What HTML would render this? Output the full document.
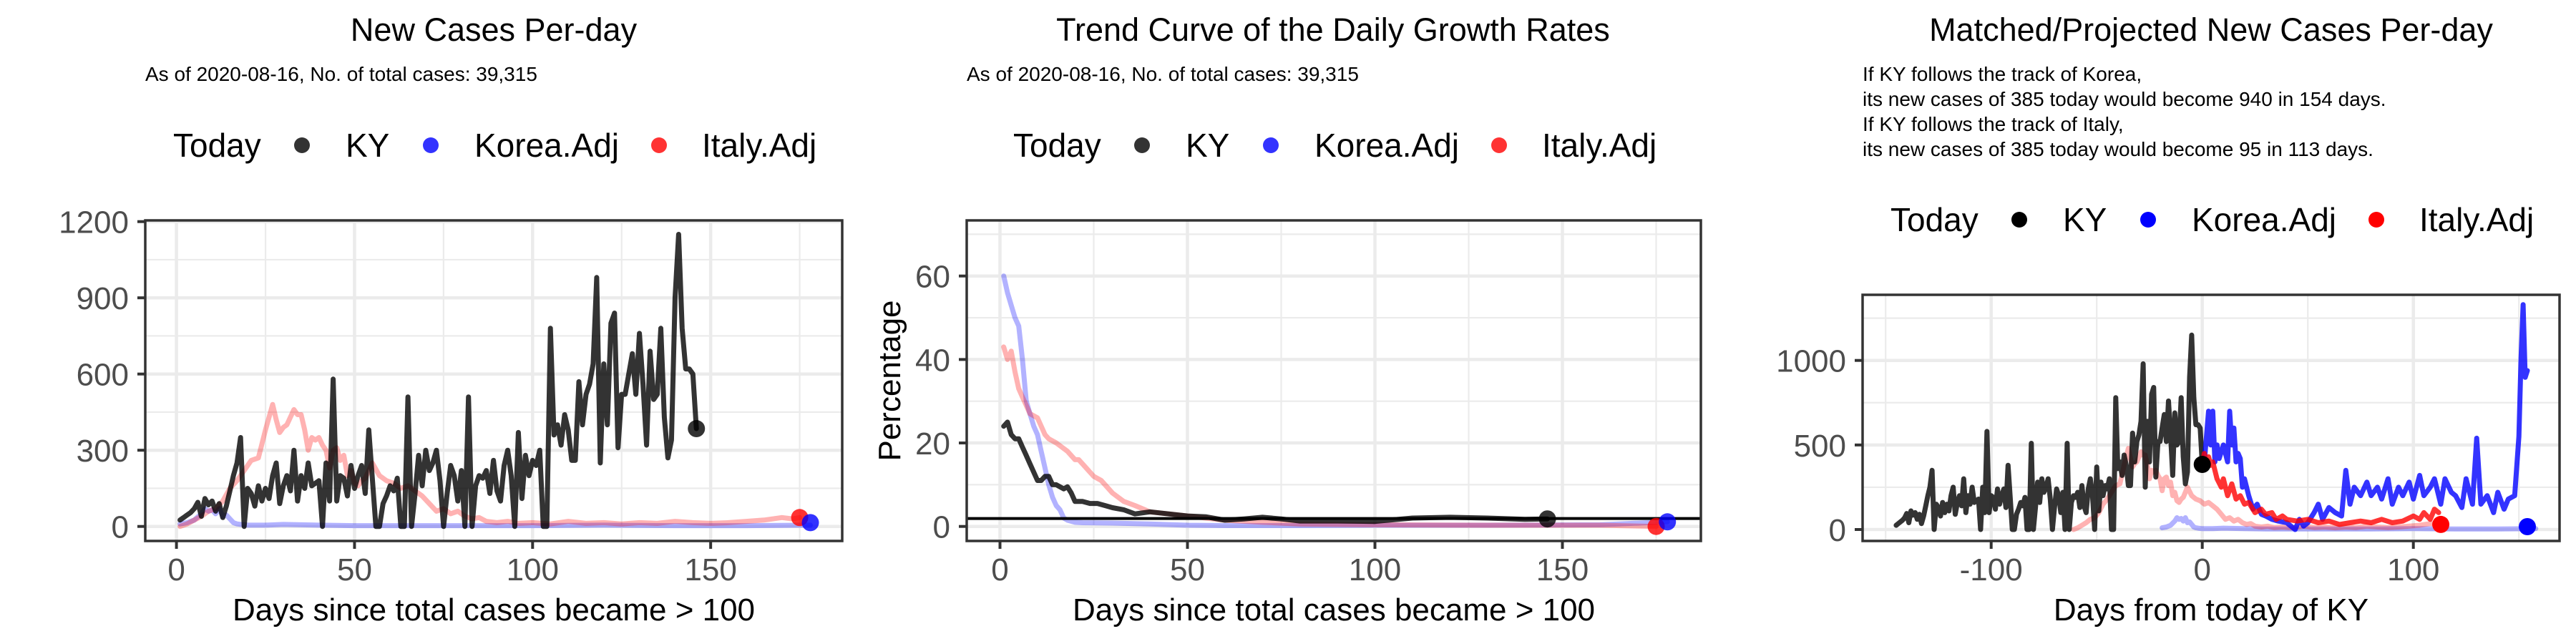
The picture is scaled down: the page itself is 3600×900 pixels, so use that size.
<!DOCTYPE html>
<html><head><meta charset="utf-8">
<style>
html,body{margin:0;padding:0;background:#fff;}
svg{display:block;font-family:"Liberation Sans",Arial,sans-serif;}
</style></head>
<body>
<svg id="chart" width="3600" height="900" viewBox="0 0 3600 900" xmlns="http://www.w3.org/2000/svg"></svg>
<script>
// ---- Data ----
const kyCases = [25,35,45,55,70,95,40,110,85,100,
60,90,35,80,140,200,250,350,0,150,
130,80,160,100,150,110,200,250,90,160,
200,140,300,100,200,150,250,160,170,180,
0,250,100,580,100,200,190,120,240,150,
200,240,130,380,190,0,0,90,120,160,
140,190,0,0,510,0,130,280,160,300,
220,250,300,180,0,130,240,200,100,220,
0,510,0,160,200,190,220,130,260,140,
100,240,300,200,0,370,110,280,200,260,
240,300,0,0,780,360,400,320,440,380,
260,260,570,400,520,560,640,980,250,640,
400,800,840,310,520,520,600,680,520,760,
560,320,690,500,520,780,430,270,340,900,
1150,780,620,620,600,385];
const italyDays = [1,3,5,7,9,11,13,15,17,19,21,23,25,27,28,29,30,31,33,34,35,36,37,38,39,40,41,42,43,44,45,46,47,48,49,50,51,52,53,55,57,59,61,63,65,67,69,71,73,75,77,79,81,83,85,87,90,93,96,100,105,110,115,120,125,130,135,140,145,150,155,160,165,170,173,175];
const italyCases = [0,10,25,40,60,70,100,150,180,220,260,270,380,480,420,370,390,400,460,440,440,380,300,350,340,350,320,300,230,300,310,260,280,200,220,170,160,180,190,250,200,180,170,150,160,140,120,90,60,70,50,60,40,30,35,20,15,20,12,15,10,20,12,15,10,15,12,20,15,12,15,20,25,35,30,35];
const koreaDays = [1,3,5,7,8,9,10,11,12,13,14,15,16,17,18,20,25,30,40,50,60,80,100,120,140,160,178];
const koreaCases = [10,15,25,50,70,60,65,50,70,40,45,30,15,10,8,5,5,8,5,3,3,3,3,5,3,3,5];

const kyGrowthDays = [1,2,3,4,5,6,7,8,9,10,11,12,13,14,15,16,17,18,19,20,22,24,26,28,30,33,36,40,45,50,55,60,65,70,75,80,90,100,110,120,130,140,146];
const kyGrowth = [24,25,22,21,21,19,17,15,13,11,11,12,12,10,10,9.5,9,9.5,8,6,6,5.5,5.5,5,4.5,4,3,3.5,3,2.5,2.3,1.5,1.8,2.2,1.8,1.3,1.3,1.2,2,2.2,2,1.7,1.8];
const koreaGrowthDays = [1,2,3,4,5,6,7,8,9,10,11,12,13,14,15,16,17,18,20,22,30,40,50,60,80,100,130,160,178];
const koreaGrowth = [60,56,53,50,48,40,30,27,24,22,18,14,10,7,5,4,2,1.5,1,0.9,0.8,0.6,0.3,0.2,0.2,0.3,0.3,0.4,1.1];
const italyGrowthDays = [1,2,3,4,5,6,7,8,10,12,13,15,18,20,21,23,25,27,30,33,36,40,45,50,60,70,80,100,130,160,175];
const italyGrowth = [43,40,42,37,33,31,29,27,26,22,21,20,18,16,16,14,12,11,8,6,5,3.5,3,2.5,1.5,1,0.6,0.4,0.3,0.3,0];
const growthRef = 1.9;

const projItalyX = [0,1,2,3,4,5,7,9,10,12,14,16,18,20,22,25,28,30,33,35,38,40,45,50,55,60,65,70,75,80,85,90,95,100,103,105,108,110,112];
const projItaly = [385,450,400,430,380,400,300,250,300,200,270,180,200,150,160,100,120,90,100,60,80,60,50,60,40,50,30,40,50,40,60,40,50,80,60,100,60,120,100];
const projKoreaX = [1,3,4,5,6,7,8,10,12,13,14,15,16,17,18,19,20,22,24,26,28,30,33,36,40,44,46,48,50,53,55,57,60,63,66,68,70,72,75,78,80,83,85,88,90,93,95,98,100,103,105,108,110,113,115,118,120,123,125,128,130,132,135,138,140,143,145,148,150,151,152,153,154];
const projKorea = [400,700,500,700,400,500,420,500,400,700,500,600,400,450,420,250,300,200,120,150,90,80,60,50,40,0,60,20,40,100,150,60,130,100,80,350,150,250,200,280,200,250,180,300,150,250,200,280,180,320,200,250,300,150,300,220,200,130,300,150,540,150,200,100,220,120,180,200,550,1000,1330,900,940];
const kyShift = -146, italyShift = -62, koreaShift = -20;
const p1Ticks = [0,300,600,900,1200], p1XTicks = [0,50,100,150];
const p2Ticks = [0,20,40,60], p2XTicks = [0,50,100,150];
const p3Ticks = [0,500,1000], p3XTicks = [-100,0,100];

// ---- Rendering ----
const NS = "http://www.w3.org/2000/svg";
const svg = document.getElementById('chart');
function el(tag, attrs, parent) {
  const e = document.createElementNS(NS, tag);
  for (const k in attrs) e.setAttribute(k, attrs[k]);
  (parent || svg).appendChild(e);
  return e;
}
function txt(s, attrs, parent) { const t = el('text', attrs, parent); t.textContent = s; return t; }

function panel(cfg) {
  const g = el('g', {});
  
  
  const L = cfg.box[0], R = cfg.box[1], T = cfg.box[2], B = cfg.box[3];
  const sx = v => cfg.x0px + v * cfg.xs;
  const sy = v => cfg.y0px - v * cfg.ys;
  const xmin = (L - cfg.x0px) / cfg.xs, xmax = (R - cfg.x0px) / cfg.xs;
  const ymax = (cfg.y0px - T) / cfg.ys, ymin = (cfg.y0px - B) / cfg.ys;
  const grid = el('g', {}, g);
  
  
  for (const m of cfg.yMinor) if (m > ymin && m < ymax) el('line', {x1:L,x2:R,y1:sy(m),y2:sy(m),stroke:'#EBEBEB','stroke-width':2.2}, grid);
  for (const m of cfg.xMinor) if (m > xmin && m < xmax) el('line', {x1:sx(m),x2:sx(m),y1:T,y2:B,stroke:'#EBEBEB','stroke-width':2.2}, grid);
  for (const m of cfg.yTicks) el('line', {x1:L,x2:R,y1:sy(m),y2:sy(m),stroke:'#EBEBEB','stroke-width':4.5}, grid);
  for (const m of cfg.xTicks) el('line', {x1:sx(m),x2:sx(m),y1:T,y2:B,stroke:'#EBEBEB','stroke-width':4.5}, grid);
  const cid = 'clip-' + cfg.name;
  const cp = el('clipPath', {id: cid}, g);
  el('rect', {x:L,y:T,width:R-L,height:B-T}, cp);
  const plot = el('g', {'clip-path':'url(#'+cid+')'}, g);
  for (const s of cfg.series) {
    let d = '';
    for (let i = 0; i < s.xs.length; i++) d += (i ? 'L' : 'M') + sx(s.xs[i]).toFixed(1) + ',' + sy(s.ys[i]).toFixed(1);
    const p = el('path', {d:d, fill:'none', stroke:s.color, 'stroke-width':7, 'stroke-linejoin':'round','stroke-linecap':'round'}, plot);
    
    
  }
  if (cfg.hline !== undefined) {
    const h = el('line', {x1:L,x2:R,y1:sy(cfg.hline),y2:sy(cfg.hline),stroke:'#000','stroke-width':4}, plot);
    
    
  }
  for (const p of cfg.points) {
    const c = el('circle', {cx:sx(p.x), cy:sy(p.y), r:12, fill:p.color}, plot);
    
    
  }
  const border = el('rect', {x:L,y:T,width:R-L,height:B-T,fill:'none',stroke:'#333333','stroke-width':3.5}, g);
  
  
  const ya = el('g', {}, g);
  
  
  for (const t of cfg.yTicks) {
    el('line', {x1:L-11,x2:L,y1:sy(t),y2:sy(t),stroke:'#333','stroke-width':4}, ya);
    const lb = txt(String(t), {x:L-23, y:sy(t)+16, 'text-anchor':'end','font-size':44, fill:'#4D4D4D'}, ya);
    
    
  }
  const xa = el('g', {}, g);
  
  
  for (const t of cfg.xTicks) {
    el('line', {x1:sx(t),x2:sx(t),y1:B,y2:B+11,stroke:'#333','stroke-width':4}, xa);
    const lb = txt(String(t), {x:sx(t), y:B+55, 'text-anchor':'middle','font-size':44, fill:'#4D4D4D'}, xa);
    
    
  }
  const xt = txt(cfg.xTitle, {x:(L+R)/2, y:867, 'text-anchor':'middle','font-size':44, fill:'#000'}, g);
  
  
  if (cfg.yTitle) {
    const yt = txt(cfg.yTitle, {x:0, y:0, 'text-anchor':'middle','font-size':44, fill:'#000', transform:'translate('+cfg.yTitleX+','+((T+B)/2)+') rotate(-90)'}, g);
    
    
  }
  const tt = txt(cfg.title, {x:cfg.titleX, y:57, 'text-anchor':'middle','font-size':45, fill:'#000'}, g);
  
  
  cfg.sub.forEach((line, i) => {
    const st = txt(line, {x:cfg.subX, y:113 + i*35, 'font-size':28, fill:'#000'}, g);
    
    
  });
  const lg = el('g', {}, g);
  
  
  const lx = cfg.legendX, ly = cfg.legendY;
  txt('Today', {x:lx, y:ly+16, 'font-size':46, fill:'#000'}, lg);
  const items = [['KY', cfg.legendColors[0], 180, 241], ['Korea.Adj', cfg.legendColors[1], 360, 421], ['Italy.Adj', cfg.legendColors[2], 679, 739]];
  for (const it of items) {
    const e = el('g', {}, lg);
    
    
    el('circle', {cx:lx+it[2], cy:ly, r:11, fill:it[1]}, e);
    txt(it[0], {x:lx+it[3], y:ly+16, 'font-size':46, fill:'#000'}, e);
  }
}

const pale = {ky:'rgba(0,0,0,0.8)', it:'rgba(255,0,0,0.3)', ko:'rgba(0,0,255,0.3)'};
const kyDays = kyCases.map((v, i) => i + 1);

panel({name:'new-cases-panel', box:[203,1177,308,756], x0px:246.6, xs:4.977, y0px:735.7, ys:0.355,
  yTicks:p1Ticks, xTicks:p1XTicks, yMinor:[150,450,750,1050], xMinor:[25,75,125,175],
  series:[
    {name:'korea-line', xs:koreaDays, ys:koreaCases, color:pale.ko},
    {name:'italy-line', xs:italyDays, ys:italyCases, color:pale.it},
    {name:'ky-line', xs:kyDays, ys:kyCases, color:pale.ky}],
  points:[{name:'ky-today-point', x:146, y:kyCases[kyCases.length-1], color:'rgba(0,0,0,0.8)'},
    {name:'italy-today-point', x:175, y:35, color:'rgba(255,0,0,0.8)'},
    {name:'korea-today-point', x:178, y:15, color:'rgba(0,0,255,0.8)'}],
  xTitle:'Days since total cases became > 100', title:'New Cases Per-day', titleX:690,
  sub:['As of 2020-08-16, No. of total cases: 39,315'], subX:203,
  legendX:242, legendY:203, legendColors:['rgba(0,0,0,0.8)','rgba(0,0,255,0.8)','rgba(255,0,0,0.8)']});

panel({name:'growth-rate-panel', box:[1351,2377,308,756], x0px:1397.5, xs:5.24, y0px:735.7, ys:5.833,
  yTicks:p2Ticks, xTicks:p2XTicks, yMinor:[10,30,50,70], xMinor:[25,75,125,175],
  series:[
    {name:'korea-growth-line', xs:koreaGrowthDays, ys:koreaGrowth, color:pale.ko},
    {name:'italy-growth-line', xs:italyGrowthDays, ys:italyGrowth, color:pale.it},
    {name:'ky-growth-line', xs:kyGrowthDays, ys:kyGrowth, color:pale.ky}],
  hline:growthRef,
  points:[{name:'ky-today-point', x:146, y:1.8, color:'rgba(0,0,0,0.8)'},
    {name:'italy-today-point', x:175, y:0, color:'rgba(255,0,0,0.8)'},
    {name:'korea-today-point', x:178, y:1.1, color:'rgba(0,0,255,0.8)'}],
  xTitle:'Days since total cases became > 100', yTitle:'Percentage', yTitleX:1258,
  title:'Trend Curve of the Daily Growth Rates', titleX:1863,
  sub:['As of 2020-08-16, No. of total cases: 39,315'], subX:1351,
  legendX:1416, legendY:203, legendColors:['rgba(0,0,0,0.8)','rgba(0,0,255,0.8)','rgba(255,0,0,0.8)']});

panel({name:'projected-cases-panel', box:[2603,3577,412,756], x0px:3077.7, xs:2.95, y0px:740, ys:0.2363,
  yTicks:p3Ticks, xTicks:p3XTicks, yMinor:[250,750,1250], xMinor:[-150,-50,50,150],
  series:[
    {name:'korea-matched-line', xs:koreaDays.map(d => d + koreaShift), ys:koreaCases, color:pale.ko},
    {name:'italy-matched-line', xs:italyDays.map(d => d + italyShift), ys:italyCases, color:pale.it},
    {name:'ky-line', xs:kyDays.map(d => d + kyShift), ys:kyCases, color:pale.ky},
    {name:'korea-projected-line', xs:projKoreaX, ys:projKorea, color:'rgba(0,0,255,0.8)'},
    {name:'italy-projected-line', xs:projItalyX, ys:projItaly, color:'rgba(255,0,0,0.8)'}],
  points:[{name:'ky-today-point', x:0, y:385, color:'#000'},
    {name:'italy-projected-point', x:113, y:30, color:'#FF0000'},
    {name:'korea-projected-point', x:154, y:17, color:'#0000FF'}],
  xTitle:'Days from today of KY', title:'Matched/Projected New Cases Per-day', titleX:3090,
  sub:['If KY follows the track of Korea,','its new cases of 385 today would become 940 in 154 days.','If KY follows the track of Italy,','its new cases of 385 today would become 95 in 113 days.'], subX:2603,
  legendX:2642, legendY:307, legendColors:['#000','#0000FF','#FF0000']});
</script>
</body></html>
